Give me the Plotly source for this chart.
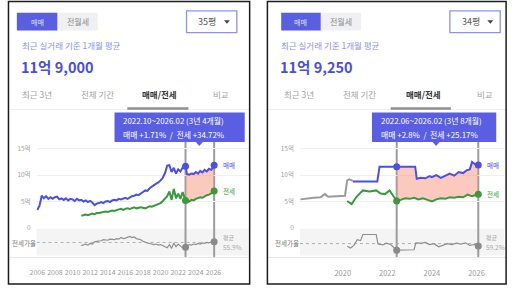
import plotly.graph_objects as go

W, H = 514, 291
FONT = "Noto Sans CJK KR"
BLUE = "#4b4fe4"
GREEN = "#3c983c"
RGRAY = "#8e8e8e"
VLINE = "#9c9c9c"
PINK = "rgba(248,148,124,0.50)"
TIP = "#5a5ee2"

def X(px):
    return px / W

def Y(py):
    return 1 - py / H

# ---------------- Left panel data (35평) ----------------
L_pre_x = [2006 + q * 0.25 for q in range(68)]  # 2006.00 .. 2022.75 quarterly
L_sale_pre = [3.4, 4.2, 6.1, 5.6, 6.0, 5.5, 5.8, 5.5, 5.8, 5.9, 5.4, 5.6,
              5.3, 5.6, 5.2, 5.5, 5.4, 5.1, 5.5, 5.2, 5.3, 5.0, 5.2, 4.9,
              5.1, 4.8, 4.3, 4.6, 4.7, 4.9, 4.7, 5.0, 5.1, 4.9, 5.2, 5.3,
              5.2, 5.5, 5.4, 5.6, 5.7, 5.5, 5.8, 6.0, 6.1, 6.3, 6.2, 6.6,
              6.8, 7.1, 7.0, 7.5, 7.9, 8.1, 8.4, 8.6, 9.0, 9.5, 10.4, 11.8,
              11.9, 10.6, 11.4, 10.3, 11.1, 10.7, 11.4, 11.6]
L_jeon_pre_x = L_pre_x[20:]  # from 2011
L_jeon_pre = [2.3, 2.4, 2.5, 2.4, 2.6, 2.7, 2.6, 2.8, 2.8, 2.9, 3.0, 3.1,
              3.0, 3.2, 3.3, 3.2, 3.4, 3.5, 3.6, 3.4, 3.6, 3.7, 3.6, 3.8,
              3.9, 3.7, 3.8, 3.9, 3.8, 3.7, 3.9, 4.1, 4.0, 4.2, 4.4, 4.5,
              4.7, 5.1, 5.6, 6.0, 6.9, 5.3, 7.4, 5.6, 6.5, 5.5, 6.8, 5.4]
L_ratio_pre = [50, 52, 53, 51, 54, 53, 57, 58, 58, 59, 61, 60,
               60, 62, 62, 61, 63, 62, 65, 63, 64, 66, 67, 65,
               66, 63, 62, 61, 58, 56, 55, 54, 53, 52, 53, 51,
               52, 50, 49, 46, 52, 45, 55, 48, 53, 50, 46, 48]
L_per_x = [2022.83, 2023.0, 2023.25, 2023.5, 2023.75, 2024.0, 2024.25, 2024.5,
           2024.75, 2025.0, 2025.25, 2025.5, 2025.75, 2026.0, 2026.08]
L_sale_per = [11.7, 10.2, 10.1, 10.3, 10.2, 10.6, 10.3, 10.8, 10.5, 11.0, 10.7, 11.2, 11.0, 11.5, 11.9]
L_jeon_per = [5.2, 4.9, 5.0, 5.3, 5.2, 5.5, 5.6, 5.8, 5.7, 6.0, 6.2, 6.3, 6.5, 6.8, 7.0]
L_ratio_per = [47, 50, 52, 51, 53, 52, 54, 53, 55, 54, 56, 55, 57, 56, 57]
L_years = [2006, 2008, 2010, 2012, 2014, 2016, 2018, 2020, 2022, 2024, 2026]
L_mean = 55.9

# ---------------- Right panel data (34평) ----------------
R_gray_x = [2018.1, 2018.4, 2018.7, 2019.0, 2019.2, 2019.35, 2019.6, 2019.9, 2020.1, 2020.2, 2020.3, 2020.45]
R_gray = [5.4, 5.6, 5.7, 5.8, 6.4, 5.9, 6.0, 6.0, 6.1, 9.0, 9.2, 8.9]
R_sale_pre_x = [2020.45, 2021.55, 2021.65, 2022.42]
R_sale_pre = [8.8, 8.8, 11.6, 11.6]
R_sale_per_x = [2022.42, 2023.25, 2023.32, 2023.5, 2023.7, 2023.9, 2024.0, 2024.2, 2024.4,
                2024.6, 2024.8, 2025.0, 2025.2, 2025.4, 2025.55, 2025.7, 2025.8, 2025.95, 2026.08]
R_sale_per = [11.6, 11.6, 9.3, 9.5, 9.4, 9.8, 9.6, 10.0, 9.5, 9.9, 10.3, 9.9, 10.6, 10.4, 10.9, 11.1, 12.5, 12.0, 11.925]
R_jeon_pre_x = [2020.2, 2020.4, 2020.6, 2020.9, 2021.2, 2021.5, 2021.7, 2021.9, 2022.1, 2022.3, 2022.42]
R_jeon_pre = [5.1, 4.5, 5.8, 7.1, 6.9, 7.1, 6.5, 6.4, 7.1, 5.9, 5.1]
R_jeon_per_x = [2022.42, 2022.6, 2022.8, 2023.0, 2023.2, 2023.4, 2023.6, 2023.8, 2024.0, 2024.2, 2024.4,
                2024.6, 2024.8, 2025.0, 2025.2, 2025.4, 2025.6, 2025.8, 2026.08]
R_jeon_per = [5.1, 5.3, 5.6, 5.5, 5.7, 5.4, 5.6, 5.3, 5.0, 5.4, 5.6, 5.5, 5.8, 5.7, 5.9, 5.8, 6.3, 6.0, 6.38]
R_ratio_x = [2020.2, 2020.35, 2020.5, 2020.65, 2020.8, 2020.9, 2021.5, 2021.58, 2021.8, 2021.95, 2022.15,
             2022.3, 2022.42, 2023.2, 2023.28, 2023.5, 2023.7, 2023.9, 2024.1, 2024.3, 2024.5, 2024.7,
             2024.9, 2025.1, 2025.3, 2025.5, 2025.7, 2025.9, 2026.08]
R_ratio = [53, 49, 55, 68, 66, 80, 80, 58, 56, 60, 57, 50, 44, 45, 61, 60, 62, 57, 59, 52, 56, 59,
           57, 60, 58, 61, 55, 57, 53.5]
R_years = [2020, 2022, 2024, 2026]
R_mean = 59.2

panels = [
    dict(name="L", left=1.5, right=246, xa="x", ya="y", xa2="x2", ya2="y2",
         dom=[X(30), X(245)], xr=[2005.92, 2030.0], rr=[32, 81], years=L_years, tfs=7,
         pre_x=L_pre_x, sale_pre=L_sale_pre, jeon_pre_x=L_jeon_pre_x, jeon_pre=L_jeon_pre,
         sale_per_x=L_per_x, sale_per=L_sale_per, jeon_per_x=L_per_x, jeon_per=L_jeon_per,
         ratio_x=L_jeon_pre_x + L_per_x, ratio=L_ratio_pre + L_ratio_per, rstart=L_per_x[0],
         mean=L_mean, size="35평", price="11억 9,000",
         tip1="2022.10~2026.02 (3년 4개월)", tip2="매매 +1.71%  /  전세 +34.72%",
         tipbox=(109, 241), tipptr=195,
         tog=(10, 51, 92), dd=(182, 233), tabs=[13, 73, 135, 207], ul=(122, 184),
         lab_x=218, avg_x=217, jr_x=3),
    dict(name="R", left=264, right=506, xa="x3", ya="y3", xa2="x4", ya2="y4",
         dom=[X(297), X(504)], xr=[2018.08, 2027.24], rr=[32, 93], years=R_years, tfs=7.5,
         pre_x=R_sale_pre_x, sale_pre=R_sale_pre, jeon_pre_x=R_jeon_pre_x, jeon_pre=R_jeon_pre,
         sale_per_x=R_sale_per_x, sale_per=R_sale_per, jeon_per_x=R_jeon_per_x, jeon_per=R_jeon_per,
         ratio_x=R_ratio_x, ratio=R_ratio, rstart=R_sale_per_x[0],
         mean=R_mean, size="34평", price="11억 9,250",
         tip1="2022.06~2026.02 (3년 8개월)", tip2="매매 +2.8%  /  전세 +25.17%",
         tipbox=(370, 496), tipptr=435,
         tog=(278, 318, 359), dd=(449, 500), tabs=[279, 339, 402, 474], ul=(389, 450),
         lab_x=484, avg_x=484, jr_x=270),
]

fig = go.Figure()
shapes = []
ann = []

def txt(x, y, s, size, color, anchor="left", bold=False):
    ann.append(dict(xref="paper", yref="paper", x=X(x), y=Y(y), text=("<b>%s</b>" % s) if bold else s,
                    showarrow=False, xanchor=anchor, yanchor="middle",
                    font=dict(family=FONT, size=size, color=color)))

axis_font = dict(family=FONT, size=6.5, color="#a0a0a0")
layout_axes = {}

for p in panels:
    xa, ya, xa2, ya2 = p["xa"], p["ya"], p["xa2"], p["ya2"]
    # pink fill between series over the selected period
    fig.add_trace(go.Scatter(x=p["jeon_per_x"], y=p["jeon_per"], mode="lines", line=dict(width=0),
                             xaxis=xa, yaxis=ya, hoverinfo="skip"))
    fig.add_trace(go.Scatter(x=p["sale_per_x"], y=p["sale_per"], mode="lines", line=dict(width=0),
                             fill="tonexty", fillcolor=PINK, xaxis=xa, yaxis=ya, hoverinfo="skip"))
    if p["name"] == "R":
        fig.add_trace(go.Scatter(x=R_gray_x, y=R_gray, mode="lines", line=dict(color="#9a9a9a", width=2),
                                 xaxis=xa, yaxis=ya))
    # lines
    fig.add_trace(go.Scatter(x=p["jeon_pre_x"] + p["jeon_per_x"], y=p["jeon_pre"] + p["jeon_per"], mode="lines",
                             line=dict(color=GREEN, width=2), xaxis=xa, yaxis=ya))
    fig.add_trace(go.Scatter(x=p["pre_x"] + p["sale_per_x"], y=p["sale_pre"] + p["sale_per"], mode="lines",
                             line=dict(color=BLUE, width=2), xaxis=xa, yaxis=ya))
    # endpoint markers
    fig.add_trace(go.Scatter(x=[p["sale_per_x"][0], p["sale_per_x"][-1]], y=[p["sale_per"][0], p["sale_per"][-1]],
                             mode="markers", marker=dict(color=BLUE, size=7), xaxis=xa, yaxis=ya))
    fig.add_trace(go.Scatter(x=[p["jeon_per_x"][0], p["jeon_per_x"][-1]], y=[p["jeon_per"][0], p["jeon_per"][-1]],
                             mode="markers", marker=dict(color=GREEN, size=7), xaxis=xa, yaxis=ya))
    # ratio
    fig.add_trace(go.Scatter(x=p["ratio_x"], y=p["ratio"], mode="lines", line=dict(color=RGRAY, width=1.2),
                             xaxis=xa2, yaxis=ya2))
    ri = p["ratio_x"].index(p["rstart"])
    fig.add_trace(go.Scatter(x=[p["ratio_x"][ri], p["ratio_x"][-1]], y=[p["ratio"][ri], p["ratio"][-1]],
                             mode="markers", marker=dict(color="#8a8a8a", size=7), xaxis=xa2, yaxis=ya2))

    n1 = xa[1:] if len(xa) > 1 else ""
    n2 = xa2[1:]
    layout_axes["xaxis" + n1] = dict(domain=p["dom"], range=p["xr"], showticklabels=False, showgrid=False,
                                     zeroline=False, anchor=ya, fixedrange=True)
    layout_axes["yaxis" + n1] = dict(domain=[Y(231), Y(141)], range=[0, 16.85], tickvals=[0, 5, 10, 15],
                                     ticktext=["0", "5억", "10억", "15억"], gridcolor="#efefef", gridwidth=1,
                                     zeroline=False, tickfont=axis_font, anchor=xa, ticklabelstandoff=5)
    layout_axes["xaxis" + n2] = dict(domain=p["dom"], range=p["xr"], tickvals=p["years"], tickangle=0,
                                     ticktext=[str(v) for v in p["years"]], showgrid=False, zeroline=False,
                                     anchor=ya2, tickfont=dict(family=FONT, size=p["tfs"], color="#9a9a9a"),
                                     ticklabelstandoff=12)
    layout_axes["yaxis" + n2] = dict(domain=[Y(259), Y(232)], range=p["rr"], visible=False, anchor=xa2)

    L, R = p["left"], p["right"]
    # ratio band background
    shapes.append(dict(type="rect", xref=xa2 + " domain", yref=ya2 + " domain", x0=0, x1=1, y0=0, y1=1,
                       fillcolor="#f4f4f4", line=dict(width=0), layer="below"))
    # mean dotted line
    shapes.append(dict(type="line", xref=xa2, yref=ya2, x0=p["xr"][0], x1=p["sale_per_x"][-1], y0=p["mean"],
                       y1=p["mean"], line=dict(color="#b0b0b0", width=1, dash="dot"), layer="below"))
    # vertical period lines
    for xv in (p["sale_per_x"][0], p["sale_per_x"][-1]):
        shapes.append(dict(type="line", xref=xa, yref="paper", x0=xv, x1=xv, y0=Y(261), y1=Y(144),
                           line=dict(color=VLINE, width=2), layer="below"))
    # axis base line + tab divider
    shapes.append(dict(type="line", xref="paper", yref="paper", x0=X(L), x1=X(R), y0=Y(261), y1=Y(261),
                       line=dict(color="#e6e6e6", width=1)))
    shapes.append(dict(type="line", xref="paper", yref="paper", x0=X(L), x1=X(R), y0=Y(111), y1=Y(111),
                       line=dict(color="#ededed", width=1)))
    shapes.append(dict(type="line", xref="paper", yref="paper", x0=X(p["ul"][0]), x1=X(p["ul"][1]),
                       y0=Y(110), y1=Y(110), line=dict(color="#8f8f8f", width=2.5)))
    # panel border
    shapes.append(dict(type="rect", xref="paper", yref="paper", x0=X(L), x1=X(R), y0=Y(288), y1=Y(1.5),
                       line=dict(color="#1c1c1c", width=1.5), fillcolor="rgba(0,0,0,0)"))
    # toggle buttons
    t0, t1, t2 = p["tog"]
    shapes.append(dict(type="rect", xref="paper", yref="paper", x0=X(t0), x1=X(t2), y0=Y(31), y1=Y(13),
                       fillcolor="#f0f0f2", line=dict(width=0)))
    shapes.append(dict(type="rect", xref="paper", yref="paper", x0=X(t0), x1=X(t1), y0=Y(31), y1=Y(13),
                       fillcolor="#5a5fe0", line=dict(width=0)))
    txt((t0 + t1) / 2, 22, "매매", 7, "#dfe0ff", anchor="center")
    txt((t1 + t2) / 2, 22, "전월세", 8, "#8a8a8a", anchor="center")
    # dropdown
    d0, d1 = p["dd"]
    shapes.append(dict(type="rect", xref="paper", yref="paper", x0=X(d0), x1=X(d1), y0=Y(33), y1=Y(11),
                       fillcolor="white", line=dict(color="#8d91ec", width=1.3)))
    txt(d0 + 10, 22, p["size"], 9, "#555555")
    shapes.append(dict(type="path", xref="paper", yref="paper",
                       path="M %f,%f L %f,%f L %f,%f Z" % (X(d1 - 13), Y(20.5), X(d1 - 7), Y(20.5), X(d1 - 10), Y(24)),
                       fillcolor="#444444", line=dict(width=0)))
    # headline
    txt(L + 11.5, 46, "최근 실거래 기준 1개월 평균", 8.5, "#8c90ee")
    txt(L + 10.5, 67, p["price"], 14.5, "#4a4fd8", bold=True)
    # tabs
    tabs = ["최근 3년", "전체 기간", "매매/전세", "비교"]
    for i, (tx, tl) in enumerate(zip(p["tabs"], tabs)):
        txt(tx, 95, tl, 8.5, "#333333" if i == 2 else "#a3a3a3", bold=(i == 2))
    # tooltip
    b0, b1 = p["tipbox"]
    shapes.append(dict(type="rect", xref="paper", yref="paper", x0=X(b0), x1=X(b1), y0=Y(144), y1=Y(114),
                       fillcolor=TIP, line=dict(width=0), layer="above"))
    pt = p["tipptr"]
    shapes.append(dict(type="path", xref="paper", yref="paper",
                       path="M %f,%f L %f,%f L %f,%f Z" % (X(pt - 4), Y(143.5), X(pt + 4), Y(143.5), X(pt), Y(148)),
                       fillcolor=TIP, line=dict(width=0), layer="above"))
    txt(b0 + 7, 122, p["tip1"], 7.9, "white")
    txt(b0 + 7, 136, p["tip2"], 7.9, "white")
    # series labels
    ann.append(dict(xref=xa, yref=ya, x=p["sale_per_x"][-1], y=p["sale_per"][-1], text="매매", showarrow=False,
                    xanchor="left", yanchor="middle", xshift=7, font=dict(family=FONT, size=6.5, color=BLUE)))
    ann.append(dict(xref=xa, yref=ya, x=p["jeon_per_x"][-1], y=p["jeon_per"][-1], text="전세", showarrow=False,
                    xanchor="left", yanchor="middle", xshift=7, font=dict(family=FONT, size=6.5, color=GREEN)))
    txt(p["jr_x"], 246, "전세가율", 6.5, "#777777")
    txt(p["avg_x"], 241, "평균", 6, "#aaaaaa")
    txt(p["avg_x"], 250, "%.1f%%" % p["mean"], 6.5, "#aaaaaa")

fig.update_layout(width=W, height=H, margin=dict(l=0, r=0, t=0, b=0), paper_bgcolor="white",
                  plot_bgcolor="rgba(0,0,0,0)", showlegend=False, shapes=shapes, annotations=ann,
                  font=dict(family=FONT), **layout_axes)
fig.write_html("out.html")
